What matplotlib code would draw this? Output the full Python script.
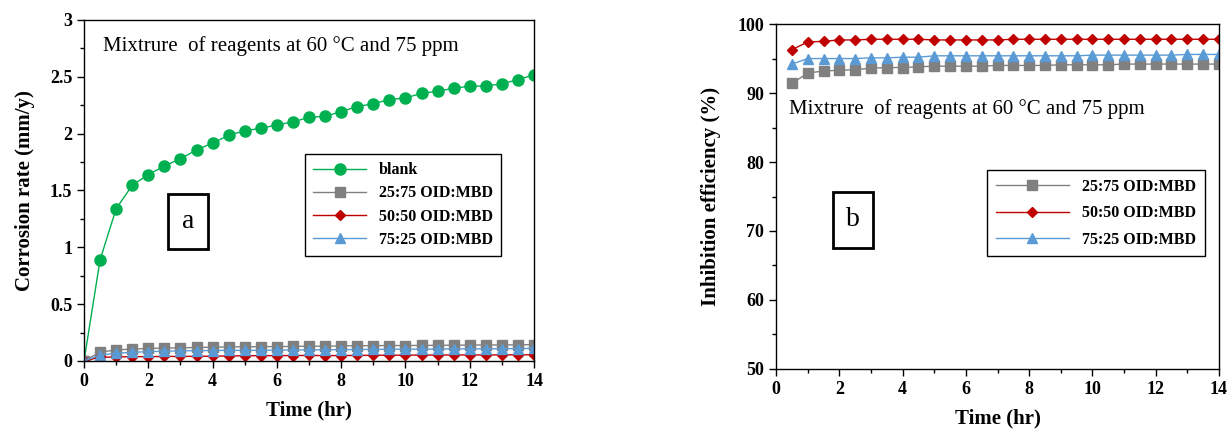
import numpy as np
import matplotlib.pyplot as plt
from matplotlib.ticker import MultipleLocator
from matplotlib.patches import Rectangle

plt.rcParams['font.family'] = ['Liberation Serif', 'DejaVu Serif']

# --- DATA ---
time_a = [0, 0.5, 1, 1.5, 2, 2.5, 3, 3.5, 4, 4.5, 5, 5.5, 6, 6.5, 7, 7.5,
          8, 8.5, 9, 9.5, 10, 10.5, 11, 11.5, 12, 12.5, 13, 13.5, 14]
time_b = time_a[1:]

blank = [0, 0.89, 1.34, 1.545, 1.64, 1.715, 1.78, 1.856, 1.918, 1.985, 2.026,
         2.047, 2.077, 2.103, 2.144, 2.152, 2.194, 2.238, 2.264, 2.30, 2.314,
         2.355, 2.373, 2.40, 2.417, 2.42, 2.438, 2.476, 2.517]
cr_25_75 = [0, 0.078, 0.097, 0.105, 0.11, 0.114, 0.115, 0.119, 0.121, 0.124,
            0.125, 0.126, 0.127, 0.128, 0.130, 0.130, 0.133, 0.134, 0.135,
            0.136, 0.136, 0.137, 0.138, 0.139, 0.140, 0.141, 0.141, 0.142, 0.144]
cr_50_50 = [0, 0.033, 0.035, 0.038, 0.038, 0.040, 0.040, 0.041, 0.042, 0.044,
            0.046, 0.047, 0.047, 0.048, 0.049, 0.047, 0.048, 0.049, 0.050,
            0.051, 0.051, 0.052, 0.052, 0.053, 0.053, 0.053, 0.054, 0.054, 0.055]
cr_75_25 = [0, 0.052, 0.067, 0.077, 0.082, 0.086, 0.089, 0.091, 0.092, 0.094,
            0.093, 0.094, 0.096, 0.097, 0.098, 0.099, 0.100, 0.101, 0.102,
            0.103, 0.104, 0.104, 0.105, 0.106, 0.107, 0.107, 0.108, 0.109, 0.111]

ie_25_75 = [91.4, 92.9, 93.2, 93.3, 93.4, 93.6, 93.7, 93.7, 93.8, 93.9, 93.9,
            93.9, 93.9, 94.0, 94.0, 94.0, 94.0, 94.1, 94.1, 94.1, 94.1, 94.2,
            94.2, 94.2, 94.2, 94.2, 94.2, 94.2]
ie_50_50 = [96.3, 97.4, 97.5, 97.7, 97.7, 97.8, 97.8, 97.8, 97.8, 97.7, 97.7,
            97.7, 97.7, 97.7, 97.8, 97.8, 97.8, 97.8, 97.8, 97.8, 97.8, 97.8,
            97.8, 97.8, 97.8, 97.8, 97.8, 97.8]
ie_75_25 = [94.2, 95.0, 95.0, 95.0, 95.0, 95.1, 95.1, 95.2, 95.2, 95.4, 95.4,
            95.4, 95.4, 95.4, 95.4, 95.4, 95.4, 95.4, 95.4, 95.5, 95.5, 95.5,
            95.5, 95.5, 95.5, 95.6, 95.6, 95.6]

labels = ['25:75 OID:MBD', '50:50 OID:MBD', '75:25 OID:MBD']
GREEN, GREY, RED, BLUE = '#00b050', '#808080', '#c00000', '#5b9bd5'
NOTE = 'Mixtrure  of reagents at 60 \u00b0C and 75 ppm'

fig = plt.figure(figsize=(12.3, 4.3), dpi=100)
ax1 = fig.add_axes([0.0683, 0.1605, 0.3659, 0.793])
ax2 = fig.add_axes([0.631, 0.142, 0.360, 0.802])


def panel_tag(ax, letter, cx, cy, w, h):
    # boxed panel letter, sizes given in axes fraction
    ax.add_patch(Rectangle((cx - w / 2, cy - h / 2), w, h, transform=ax.transAxes,
                           fill=True, fc='white', ec='black', lw=2, zorder=3))
    ax.text(cx, cy, letter, transform=ax.transAxes, fontsize=20,
            ha='center', va='center', zorder=4)


# panel a
ax1.plot(time_a, blank, color=GREEN, marker='o', ms=8, lw=1, label='blank')
ax1.plot(time_a, cr_25_75, color=GREY, marker='s', ms=7, lw=1, label=labels[0])
ax1.plot(time_a, cr_50_50, color=RED, marker='D', ms=5.5, lw=1, label=labels[1])
ax1.plot(time_a, cr_75_25, color=BLUE, marker='^', ms=7, lw=1, label=labels[2])
ax1.set_xlim(0, 14)
ax1.set_ylim(0, 3)
ax1.set_yticks([0, 0.5, 1, 1.5, 2, 2.5, 3])
ax1.set_yticklabels(['0', '0.5', '1', '1.5', '2', '2.5', '3'])
ax1.yaxis.set_minor_locator(MultipleLocator(0.25))
ax1.set_ylabel('Corrosion rate (mm/y)', fontsize=15, fontweight='bold', labelpad=11)
ax1.text(0.043, 0.924, NOTE, transform=ax1.transAxes, fontsize=15, va='center')
panel_tag(ax1, 'a', 0.231, 0.41, 0.089, 0.161)
leg1 = ax1.legend(loc='upper left', bbox_to_anchor=(0.474, 0.63),
                  prop={'weight': 'bold', 'size': 11.5}, fancybox=False,
                  edgecolor='black', framealpha=1, handlelength=3.3,
                  borderpad=0.5, labelspacing=0.45)
leg1.get_frame().set_linewidth(1)

# panel b
ax2.plot(time_b, ie_25_75, color=GREY, marker='s', ms=7, lw=1, label=labels[0])
ax2.plot(time_b, ie_50_50, color=RED, marker='D', ms=5.5, lw=1, label=labels[1])
ax2.plot(time_b, ie_75_25, color=BLUE, marker='^', ms=7, lw=1, label=labels[2])
ax2.set_xlim(0, 14)
ax2.set_ylim(50, 100)
ax2.yaxis.set_major_locator(MultipleLocator(10))
ax2.yaxis.set_minor_locator(MultipleLocator(5))
ax2.set_ylabel('Inhibition efficiency (%)', fontsize=15, fontweight='bold', labelpad=12)
ax2.text(0.03, 0.754, NOTE, transform=ax2.transAxes, fontsize=15, va='center')
panel_tag(ax2, 'b', 0.174, 0.432, 0.090, 0.162)
leg2 = ax2.legend(loc='upper left', bbox_to_anchor=(0.458, 0.6),
                  prop={'weight': 'bold', 'size': 11.5}, fancybox=False,
                  edgecolor='black', framealpha=1, handlelength=4.6,
                  borderpad=0.55, labelspacing=0.65)
leg2.get_frame().set_linewidth(1)

for ax in (ax1, ax2):
    ax.xaxis.set_major_locator(MultipleLocator(2))
    ax.xaxis.set_minor_locator(MultipleLocator(1))
    ax.set_xlabel('Time (hr)', fontsize=15, fontweight='bold', labelpad=8)
    ax.tick_params(which='major', direction='out', length=5, width=1,
                   labelsize=13)
    ax.tick_params(which='minor', direction='out', length=3, width=1)
    for lbl in ax.get_xticklabels() + ax.get_yticklabels():
        lbl.set_fontweight('bold')
    for s in ax.spines.values():
        s.set_linewidth(1)
        s.set_color('black')

fig.savefig('out.png', dpi=100, facecolor='white')
